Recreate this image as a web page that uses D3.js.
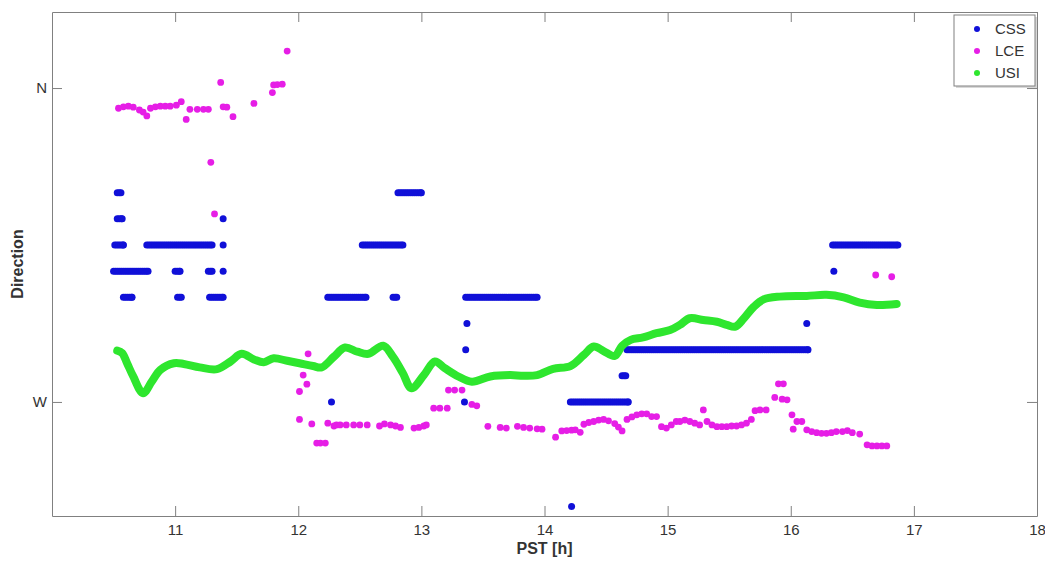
<!DOCTYPE html>
<html>
<head>
<meta charset="utf-8">
<script src="https://cdn.jsdelivr.net/npm/d3@7"></script>
<style>
  body { margin: 0; background: #fff; }
  text { font-family: Arial, "Liberation Sans", sans-serif; fill: #333; }
</style>
</head>
<body>
<svg id="chart"></svg>
<script>
var w = 1045; // Width of the SVG element
var h = 561;  // Height of the SVG element
var margin = { top: 12, right: 8, bottom: 45, left: 52 };

// x ticks (hours) and y ticks (direction in degrees)
var xTicks = [11, 12, 13, 14, 15, 16, 17, 18];
var yTickValues = [270, 360];
var yTickLabels = ["W", "N"];

// CSS: runs of constant direction (start hour, end hour, direction deg)
var cssStart = [10.53, 12.81, 10.53, 11.39, 10.51, 10.77, 11.39, 12.52, 16.34,
                10.50, 11.00, 11.27, 11.39, 16.35, 10.58, 11.02, 11.28, 12.24, 12.77, 13.36,
                13.37, 16.13, 13.36, 14.67, 14.63, 12.27, 13.35, 14.21, 14.22];
var cssEnd   = [10.56, 13.00, 10.57, 11.39, 10.58, 11.30, 11.39, 12.85, 16.87,
                10.78, 11.04, 11.30, 11.39, 16.35, 10.65, 11.05, 11.39, 12.55, 12.80, 13.94,
                13.37, 16.13, 13.36, 16.14, 14.66, 12.27, 13.35, 14.68, 14.22];
var cssDir   = [330, 330, 322.5, 322.5, 315, 315, 315, 315, 315,
                307.5, 307.5, 307.5, 307.5, 307.5, 300, 300, 300, 300, 300, 300,
                292.5, 292.5, 285, 285, 277.5, 270, 270, 270, 240];
var cssStep = 1 / 60; // one sample per minute

// LCE samples
var lceTime = [10.54, 10.58, 10.62, 10.66, 10.71, 10.74, 10.77, 10.80, 10.84, 10.88, 10.92, 10.96,
  11.01, 11.05, 11.09, 11.12, 11.18, 11.23, 11.27, 11.29, 11.32, 11.37, 11.39, 11.42, 11.47, 11.64,
  11.79, 11.80, 11.83, 11.87, 11.91,
  12.01, 12.01, 12.04, 12.07, 12.08, 12.11, 12.15, 12.18, 12.22, 12.24, 12.29, 12.31, 12.34, 12.39,
  12.45, 12.50, 12.56, 12.66, 12.70, 12.75, 12.79, 12.83, 12.94, 12.98, 13.02, 13.04, 13.10, 13.15,
  13.21, 13.22, 13.27, 13.33, 13.41, 13.45, 13.54, 13.64, 13.69, 13.78, 13.83, 13.88, 13.94, 13.98,
  14.09, 14.14, 14.18, 14.22, 14.25, 14.29, 14.32, 14.36, 14.40, 14.44, 14.48, 14.52, 14.57, 14.60,
  14.63, 14.67, 14.71, 14.75, 14.79, 14.83, 14.87, 14.91, 14.95, 14.99, 15.03, 15.07, 15.10, 15.14,
  15.18, 15.22, 15.26, 15.29, 15.32, 15.36, 15.40, 15.44, 15.48, 15.52, 15.56, 15.60, 15.64, 15.68,
  15.71, 15.75, 15.80, 15.87, 15.90, 15.93, 15.94, 15.97, 16.01, 16.02, 16.05, 16.09, 16.13, 16.17,
  16.21, 16.25, 16.29, 16.33, 16.37, 16.42, 16.46, 16.50, 16.56, 16.62, 16.66, 16.69, 16.70, 16.74,
  16.78, 16.82];
var lceDir = [354.2, 354.6, 354.8, 354.5, 353.7, 353.1, 352.0, 354.2, 354.6, 354.8, 354.8, 354.8,
  355.1, 356.1, 351.0, 353.9, 353.9, 353.9, 353.9, 338.7, 323.9, 361.6, 354.6, 354.5, 351.8, 355.6,
  358.7, 360.9, 361.0, 361.1, 370.6,
  273.0, 265.0, 277.7, 275.1, 283.8, 263.7, 258.2, 258.2, 258.2, 263.9, 263.1, 263.4, 263.4, 263.4,
  263.4, 263.4, 263.4, 263.1, 263.7, 263.4, 263.1, 262.7, 262.5, 262.7, 263.1, 263.4, 268.2, 268.2,
  268.2, 273.4, 273.4, 273.4, 269.3, 268.9, 263.0, 262.7, 262.5, 263.0, 262.7, 262.5, 262.3, 262.2,
  259.9, 261.7, 261.8, 261.9, 262.0, 261.3, 263.6, 264.1, 264.4, 264.8, 265.0, 264.6, 263.8, 262.8,
  261.7, 265.0, 265.7, 266.3, 266.6, 266.6, 265.8, 265.8, 262.9, 262.5, 263.4, 264.4, 264.4, 264.8,
  264.4, 263.9, 263.4, 267.7, 264.4, 263.4, 262.9, 262.9, 262.9, 263.1, 263.1, 263.4, 263.9, 265.0,
  267.5, 267.7, 267.7, 271.3, 275.2, 270.8, 275.2, 270.6, 266.3, 262.2, 264.4, 264.4, 262.0, 261.5,
  261.2, 261.0, 261.0, 261.2, 261.5, 261.5, 261.8, 261.2, 260.8, 257.7, 257.4, 306.4, 257.4, 257.4,
  257.4, 305.9];

// USI samples
var usiTime = [10.53, 10.57, 10.61, 10.66, 10.74, 10.81, 10.88, 10.99, 11.07, 11.20, 11.34, 11.45,
  11.54, 11.64, 11.72, 11.80, 11.91, 12.01, 12.12, 12.19, 12.29, 12.38, 12.48, 12.57, 12.69, 12.77,
  12.85, 12.92, 13.02, 13.11, 13.19, 13.30, 13.41, 13.56, 13.72, 13.83, 13.94, 14.07, 14.21, 14.32,
  14.40, 14.48, 14.57, 14.63, 14.70, 14.80, 14.91, 15.02, 15.10, 15.18, 15.29, 15.40, 15.48, 15.55,
  15.62, 15.70, 15.78, 15.91, 16.13, 16.29, 16.43, 16.56, 16.70, 16.86];
var usiDir = [284.7, 284.0, 281.1, 277.3, 272.5, 275.8, 279.2, 281.1, 280.9, 279.9, 279.4, 281.6,
  283.8, 282.2, 281.4, 282.5, 281.8, 281.1, 280.3, 279.9, 283.0, 285.6, 284.4, 283.8, 286.1, 282.9,
  278.2, 273.9, 277.7, 281.6, 279.7, 277.3, 275.8, 277.3, 277.7, 277.5, 277.7, 279.5, 280.3, 283.5,
  285.9, 284.6, 283.2, 286.1, 287.8, 288.5, 289.7, 290.6, 292.1, 294.0, 293.5, 293.0, 292.1, 291.6,
  294.0, 297.3, 299.4, 300.2, 300.4, 300.7, 300.0, 298.5, 297.8, 298.1];

var seriesNames = ["CSS", "LCE", "USI"];
var seriesColors = ["#1010d8", "#e61ee6", "#2ee62e"];

var svg = d3.select("#chart")
  .attr("width", w)
  .attr("height", h);

var x = d3.scaleLinear()
  .domain([10, 18])
  .range([margin.left, w - margin.right]);

var y = d3.scaleLinear()
  .domain([237.3, 381.8])
  .range([h - margin.bottom, margin.top]);

var axisColor = "#808080";
var tickLen = 10;

// Axes (MATLAB style box, ticks pointing inward)
var xAxis = svg.append("g")
  .attr("transform", "translate(0," + (h - margin.bottom) + ")")
  .call(d3.axisBottom(x).tickValues(xTicks).tickFormat(d3.format("d")).tickSizeInner(-tickLen).tickSizeOuter(0).tickPadding(8));
var xAxisTop = svg.append("g")
  .attr("transform", "translate(0," + margin.top + ")")
  .call(d3.axisTop(x).tickValues(xTicks).tickFormat("").tickSizeInner(-tickLen).tickSizeOuter(0));
var yAxis = svg.append("g")
  .attr("transform", "translate(" + margin.left + ",0)")
  .call(d3.axisLeft(y).tickValues(yTickValues)
    .tickFormat(function(d, i) { return yTickLabels[i]; })
    .tickSizeInner(-tickLen).tickSizeOuter(0).tickPadding(5));
var yAxisRight = svg.append("g")
  .attr("transform", "translate(" + (w - margin.right) + ",0)")
  .call(d3.axisRight(y).tickValues(yTickValues).tickFormat("").tickSizeInner(-tickLen).tickSizeOuter(0));

[xAxis, xAxisTop, yAxis, yAxisRight].forEach(function(g) {
  g.selectAll("path").attr("stroke", axisColor);
  g.selectAll("line").attr("stroke", axisColor);
  g.selectAll("text")
    .attr("fill", "#333")
    .style("font-size", "15px")
    .style("font-family", "Arial, 'Liberation Sans', sans-serif");
});

// Expand CSS runs into per-minute samples
var cssData = [];
cssStart.forEach(function(s, i) {
  for (var t = s; t <= cssEnd[i] + 1e-9; t += cssStep) {
    cssData.push([t, cssDir[i]]);
  }
  if (cssData.length && cssData[cssData.length - 1][0] < cssEnd[i] - 1e-9) {
    cssData.push([cssEnd[i], cssDir[i]]);
  }
});

svg.append("g")
  .selectAll("circle")
  .data(cssData)
  .enter()
  .append("circle")
  .attr("cx", function(d) { return x(d[0]); })
  .attr("cy", function(d) { return y(d[1]); })
  .attr("r", 3.5)
  .attr("fill", seriesColors[0]);

var lceData = lceTime.map(function(t, i) { return [t, lceDir[i]]; });
svg.append("g")
  .selectAll("circle")
  .data(lceData)
  .enter()
  .append("circle")
  .attr("cx", function(d) { return x(d[0]); })
  .attr("cy", function(d) { return y(d[1]); })
  .attr("r", 3.4)
  .attr("fill", seriesColors[1]);

var usiData = usiTime.map(function(t, i) { return [t, usiDir[i]]; });
var line = d3.line()
  .x(function(d) { return x(d[0]); })
  .y(function(d) { return y(d[1]); })
  .curve(d3.curveCatmullRom);
svg.append("path")
  .datum(usiData)
  .attr("d", line)
  .attr("fill", "none")
  .attr("stroke", seriesColors[2])
  .attr("stroke-width", 8)
  .attr("stroke-linecap", "round")
  .attr("stroke-linejoin", "round");

// Axis labels
svg.append("text")
  .attr("x", (margin.left + w - margin.right) / 2)
  .attr("y", 554)
  .attr("text-anchor", "middle")
  .style("font-size", "16px")
  .style("font-weight", "bold")
  .text("PST [h]");

svg.append("text")
  .attr("transform", "translate(23," + ((margin.top + h - margin.bottom) / 2) + ") rotate(-90)")
  .attr("text-anchor", "middle")
  .style("font-size", "16px")
  .style("font-weight", "bold")
  .text("Direction");

// Legend
var legend = svg.append("g").attr("transform", "translate(954,15)");
legend.append("rect")
  .attr("x", 2).attr("y", 2)
  .attr("width", 81).attr("height", 71)
  .attr("fill", "#d8d8d8");
legend.append("rect")
  .attr("width", 81).attr("height", 71)
  .attr("fill", "#fff")
  .attr("stroke", axisColor);
seriesNames.forEach(function(name, i) {
  legend.append("circle")
    .attr("cx", 23)
    .attr("cy", 14 + i * 22)
    .attr("r", 3)
    .attr("fill", seriesColors[i]);
  legend.append("text")
    .attr("x", 41)
    .attr("y", 19 + i * 22)
    .style("font-size", "15px")
    .text(name);
});
</script>
</body>
</html>
